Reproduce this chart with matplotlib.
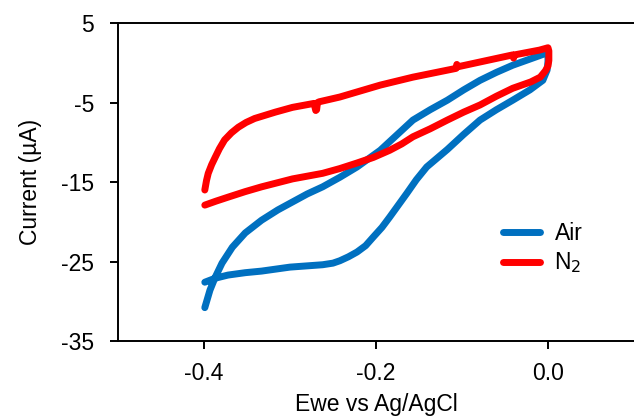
import matplotlib
matplotlib.use('Agg')
import matplotlib.pyplot as plt

# Air scan: lower branch from -0.4 up to 0.0, then upper branch back to -0.4
air_x = [-0.399, -0.387, -0.372, -0.352, -0.333, -0.300, -0.262, -0.250, -0.242,
         -0.232, -0.222, -0.212, -0.203, -0.193, -0.184, -0.174, -0.164, -0.153,
         -0.141, -0.129, -0.117, -0.098, -0.079, -0.060, -0.041, -0.021, -0.006,
         -0.001, 0.000,
         0.000, -0.010, -0.041, -0.060, -0.079, -0.098, -0.117, -0.137, -0.157,
         -0.176, -0.195, -0.222, -0.242, -0.262, -0.280, -0.297, -0.314, -0.333,
         -0.352, -0.367, -0.379, -0.387, -0.393, -0.399]
air_y = [-27.6, -27.1, -26.7, -26.4, -26.2, -25.7, -25.4, -25.2, -24.9,
         -24.4, -23.8, -23.0, -21.9, -20.7, -19.4, -17.9, -16.4, -14.7,
         -13.1, -12.0, -10.9, -9.0, -7.2, -5.9, -4.7, -3.4, -2.2,
         -0.9, 0.2,
         1.3, 0.9, -0.3, -1.2, -2.2, -3.4, -4.7, -5.9, -7.2,
         -9.1, -11.0, -13.1, -14.4, -15.6, -16.5, -17.5, -18.5, -19.8,
         -21.4, -23.2, -25.2, -27.0, -28.6, -30.8]

# N2 scan: upper branch from -0.4 up to 0.0, then lower branch back to -0.4
n2_x = [-0.399, -0.397, -0.395, -0.391, -0.387, -0.382, -0.376, -0.368, -0.360,
        -0.351, -0.341, -0.329, -0.317, -0.297, -0.272,
        -0.270, -0.269, -0.268, -0.266, -0.242, -0.195, -0.157,
        -0.107, -0.106, -0.105, -0.041, -0.040, -0.039, -0.010, 0.000,
        0.001, 0.001, 0.000, -0.003, -0.009, -0.020, -0.041, -0.060, -0.079,
        -0.098, -0.117, -0.137, -0.157, -0.170, -0.184, -0.203, -0.222, -0.242,
        -0.262, -0.297, -0.333, -0.352, -0.372, -0.386, -0.399]
n2_y = [-16.0, -14.8, -13.9, -12.8, -11.9, -10.8, -9.7, -8.8, -8.1,
        -7.5, -7.0, -6.6, -6.2, -5.6, -5.1,
        -6.0, -5.9, -5.0, -4.9, -4.3, -2.8, -1.8,
        -0.7, -0.2, -0.5, 1.0, 0.6, 1.0, 1.6, 1.9,
        1.5, 0.3, -0.4, -1.0, -1.8, -2.4, -3.2, -4.2, -5.3,
        -6.2, -7.2, -8.3, -9.3, -10.2, -11.0, -11.9, -12.6, -13.3,
        -13.9, -14.6, -15.6, -16.2, -16.9, -17.4, -17.9]

AIR_COLOR = '#0070C0'
N2_COLOR = '#FF0000'
FS = 16.5

plt.rcParams['font.family'] = ['Liberation Sans', 'DejaVu Sans']

fig = plt.figure(figsize=(6.34, 4.20), dpi=100)
ax = fig.add_axes([0.186, 0.188, 0.814, 0.757])

ax.plot(air_x, air_y, color=AIR_COLOR, linewidth=5, solid_capstyle='round',
        solid_joinstyle='round', label='Air')
ax.plot(n2_x, n2_y, color=N2_COLOR, linewidth=5, solid_capstyle='round',
        solid_joinstyle='round', label='N$_2$')

ax.set_xlim(-0.5, 0.1)
ax.set_ylim(-35, 5)
ax.set_xticks([-0.4, -0.2, 0.0])
ax.set_xticklabels(['-0.4', '-0.2', '0.0'])
ax.set_yticks([5, -5, -15, -25, -35])
ax.set_yticklabels(['5', '-5', '-15', '-25', '-35'])

ax.spines['right'].set_visible(False)
for side in ['left', 'bottom', 'top']:
    ax.spines[side].set_linewidth(1.4)
ax.tick_params(axis='both', direction='out', length=6, width=1.4,
               labelsize=FS)
ax.tick_params(axis='x', pad=9)
ax.tick_params(axis='y', pad=11)

ax.set_xlabel('Ewe vs Ag/AgCl', fontsize=FS, labelpad=6)
ax.set_ylabel('Current (\u00b5A)', fontsize=FS, labelpad=14)

ax.legend(loc='upper left', bbox_to_anchor=(0.746, 0.375), frameon=False,
          fontsize=FS, handlelength=1.6, handletextpad=0.65, labelspacing=0.25,
          borderpad=0, borderaxespad=0)

fig.savefig('out.png', dpi=100)
